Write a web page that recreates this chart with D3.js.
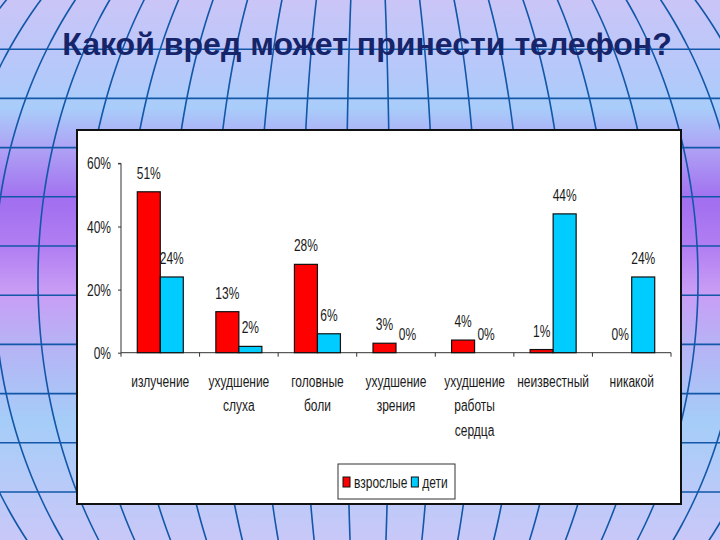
<!DOCTYPE html>
<meta charset="utf-8">
<head>
  <title>Какой вред может принести телефон?</title>
</head>
<style>
body { margin: 0; }
svg { display: block; }
.narrow text { font-family: "Liberation Sans", Arial, sans-serif; }
</style>
<body>
  <svg width="720" height="540"></svg>

  <script src="https://cdnjs.cloudflare.com/ajax/libs/d3/7.8.5/d3.min.js"></script>
  <script>
// data
var categories = ["излучение", "ухудшение слуха", "головные боли", "ухудшение зрения",
                  "ухудшение работы сердца", "неизвестный", "никакой"]
var catLines = [["излучение"], ["ухудшение", "слуха"], ["головные", "боли"], ["ухудшение", "зрения"],
                ["ухудшение", "работы", "сердца"], ["неизвестный"], ["никакой"]]
var series = ["взрослые", "дети"]
var adults = [51, 13, 28, 3, 4, 1, 0]
var children = [24, 2, 6, 0, 0, 44, 24]
var yTicks = [0, 20, 40, 60]
var colors = ["#ff0000", "#00ccff"]

var width = 720, height = 540
var squeeze = 0.75   // the original uses a condensed font
var svg = d3.select('svg')

// ---- background: gradient + globe grid
var defs = svg.append('defs')
var grad = defs.append('linearGradient').attr('id', 'bg')
  .attr('x1', 0).attr('y1', 0).attr('x2', 0).attr('y2', 1)
var stops = [[0, '#cbc5f7'], [0.13, '#b6c8fa'], [0.2, '#a9cdfa'], [0.28, '#ae9ff4'],
             [0.37, '#a16ff0'], [0.46, '#b27ff2'], [0.54, '#c99df5'], [0.64, '#b6b3f5'],
             [0.78, '#a5cdf8'], [1, '#c9c8f8']]
stops.forEach(function(s) {
  grad.append('stop').attr('offset', s[0]).attr('stop-color', s[1])
})
svg.append('rect').attr('width', width).attr('height', height).attr('fill', 'url(#bg)')

var grid = svg.append('g').attr('fill', 'none').attr('stroke', '#1257a8').attr('stroke-width', 1.6)
for (var hy = 49.2; hy < height; hy += 49.2) {
  grid.append('line').attr('x1', 0).attr('x2', width).attr('y1', hy).attr('y2', hy)
}
var cx = 368, cy = 280, B = 450, d = 44
var meridian = d3.line()
for (var k = -11; k <= 10; k++) {
  var e = (k + 0.5) * d
  var pts = d3.range(-10, 551, 5).map(function(y) {
    var t = (y - cy) / B
    return [cx + e * Math.sqrt(Math.max(0, 1 - t * t)), y]
  })
  grid.append('path').attr('d', meridian(pts))
}

// ---- title
var title = svg.append('text')
  .attr('x', 367).attr('y', 55)
  .attr('text-anchor', 'middle')
  .style('font-family', '"Liberation Sans", Arial, sans-serif')
  .style('font-weight', 'bold')
  .style('font-size', '28px')
  .attr('fill', '#16246a')
  .text('Какой вред может принести телефон?')
var tw = title.node().getComputedTextLength()
title.style('font-size', (28 * 610 / tw) + 'px')

// ---- chart panel
svg.append('rect')
  .attr('x', 77).attr('y', 130).attr('width', 604).attr('height', 374)
  .attr('fill', '#fff').attr('stroke', '#111').attr('stroke-width', 2)

var x0 = d3.scaleBand().domain(categories).range([121, 671])
var x1 = d3.scaleBand().domain(series).range([0, 46])
var y = d3.scaleLinear().domain([0, 60]).range([352.7, 163.4])
var off = (x0.bandwidth() - 46) / 2

var chart = svg.append('g').attr('class', 'narrow')

// narrow text helper: place at (x, y) and squeeze horizontally
function ntext(sel, x, yy, anchor) {
  return sel.append('text')
    .attr('transform', 'translate(' + x + ',' + yy + ') scale(' + squeeze + ',1)')
    .attr('text-anchor', anchor || 'middle')
    .style('font-size', '16px').attr('fill', '#1a1a1a')
}

// y axis
var yAxis = chart.append('g').attr('transform', 'translate(121,0)')
  .call(d3.axisLeft(y).tickValues(yTicks).tickSize(3).tickFormat(''))
yAxis.select('.domain').attr('stroke', '#333').attr('d', 'M-3,' + y(60) + 'H0V' + (y(0) + 4))
yAxis.selectAll('.tick line').attr('stroke', '#333')
yTicks.forEach(function(v) {
  ntext(chart, 111, y(v) + 6, 'end').text(v + '%')
})

// x axis
var xAxis = chart.append('g').attr('transform', 'translate(0,' + y(0) + ')')
xAxis.append('line').attr('x1', 121).attr('x2', 671).attr('stroke', '#333')
xAxis.selectAll('line.tk').data(categories).enter().append('line')
  .attr('class', 'tk')
  .attr('x1', function(c) { return x0(c) + x0.bandwidth() }).attr('x2', function(c) { return x0(c) + x0.bandwidth() })
  .attr('y1', 0).attr('y2', 4).attr('stroke', '#333')

categories.forEach(function(c, i) {
  var t = ntext(xAxis, x0(c) + x0.bandwidth() / 2, 34)
  catLines[i].forEach(function(line, j) {
    t.append('tspan').attr('x', 0).attr('dy', j === 0 ? 0 : 24.5).text(line)
  })
})

// bars
var rows = categories.map(function(c, i) {
  return {cat: c, vals: [{s: series[0], v: adults[i]}, {s: series[1], v: children[i]}]}
})
var groups = chart.selectAll('g.grp').data(rows).enter().append('g')
  .attr('class', 'grp')
  .attr('transform', function(r) { return 'translate(' + (x0(r.cat) + off) + ',0)' })

groups.selectAll('rect').data(function(r) { return r.vals.filter(function(p) { return p.v > 0 }) })
  .enter().append('rect')
  .attr('x', function(p) { return x1(p.s) })
  .attr('width', x1.bandwidth())
  .attr('y', function(p) { return y(p.v) })
  .attr('height', function(p) { return y(0) - y(p.v) })
  .attr('fill', function(p) { return colors[series.indexOf(p.s)] })
  .attr('stroke', '#111').attr('stroke-width', 1.2)

groups.each(function(r) {
  var g = d3.select(this)
  r.vals.forEach(function(p) {
    ntext(g, x1(p.s) + x1.bandwidth() / 2, y(p.v) - 13).text(p.v + '%')
  })
})

// legend
var legend = chart.append('g')
legend.append('rect').attr('x', 338).attr('y', 464).attr('width', 117).attr('height', 35)
  .attr('fill', '#fff').attr('stroke', '#333').attr('stroke-width', 1)
var lx = 343
series.forEach(function(s, i) {
  legend.append('rect').attr('x', lx).attr('y', 477).attr('width', 7).attr('height', 10)
    .attr('fill', colors[i]).attr('stroke', '#111').attr('stroke-width', 1)
  var t = ntext(legend, lx + 11, 488, 'start').text(s)
  lx += 11 + t.node().getComputedTextLength() * squeeze + 4
})
  </script>
</body>
</html>
